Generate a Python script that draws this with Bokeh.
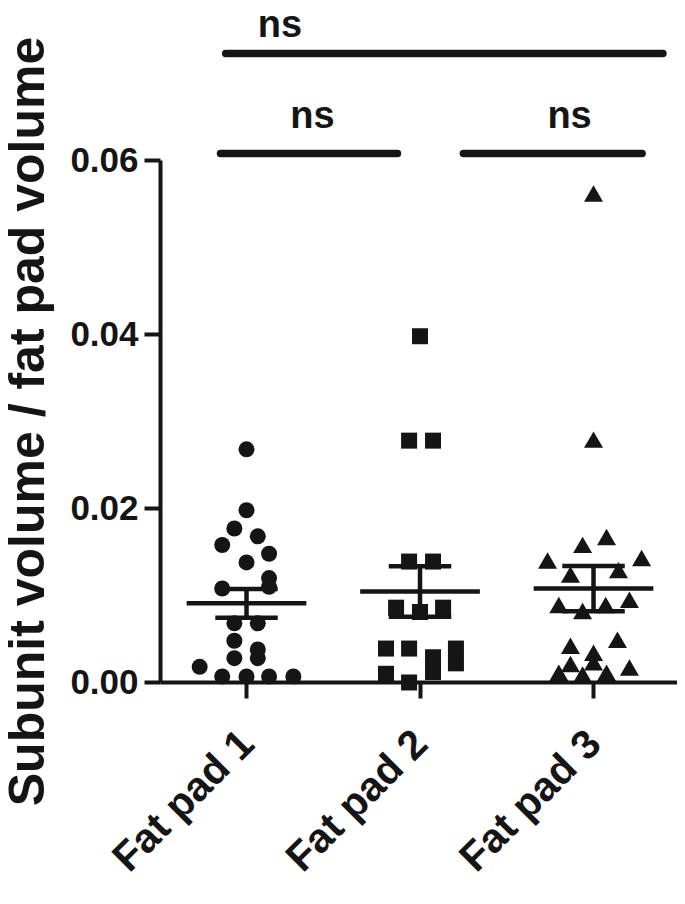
import math
from bokeh.plotting import figure
from bokeh.models import Range1d, FixedTicker, NumeralTickFormatter
from bokeh.core.properties import value
from bokeh.embed import file_html
from bokeh.resources import INLINE

# ---------------- data ----------------
categories = ["Fat pad 1", "Fat pad 2", "Fat pad 3"]

pad1_values = [0.0268, 0.0198, 0.0177, 0.0168, 0.0158, 0.0148, 0.0138, 0.0120,
               0.0108, 0.0110, 0.0068, 0.0068, 0.0048, 0.0038, 0.0028, 0.0028,
               0.0018, 0.0007, 0.0007, 0.0007, 0.0007]
pad1_offsets = [0.0, 0.0, -0.07, 0.065, -0.14, 0.13, 0.0, 0.13,
                -0.14, 0.13, -0.07, 0.065, -0.07, 0.065, -0.07, 0.065,
                -0.27, -0.14, 0.0, 0.13, 0.27]

pad2_values = [0.0398, 0.0278, 0.0278, 0.0139, 0.0139, 0.0086, 0.0081, 0.0086,
               0.0039, 0.0039, 0.0029, 0.0012, 0.0039, 0.0022, 0.0010, 0.0000]
pad2_offsets = [0.0, -0.063, 0.075, -0.063, 0.075, -0.138, 0.0, 0.133,
                -0.196, -0.063, 0.075, 0.075, 0.207, 0.207, -0.196, -0.063]

pad3_values = [0.0559, 0.0276, 0.0164, 0.0155, 0.0137, 0.0140, 0.0121, 0.0126,
               0.0086, 0.0092, 0.0079, 0.0086, 0.0046, 0.0039, 0.0031, 0.0018,
               0.0020, 0.0014, 0.0008, 0.0006, 0.0008]
pad3_offsets = [0.0, 0.0, 0.075, -0.063, -0.265, 0.277, -0.133, 0.144,
                -0.2, 0.207, -0.063, 0.07, 0.138, -0.133, 0.0, -0.133,
                0.0, 0.207, -0.2, -0.063, 0.075]

group_means = [0.0091, 0.01046, 0.0108]
group_sems = [0.00165, 0.0029, 0.0026]

y_ticks = [0.0, 0.02, 0.04, 0.06]
comparison_pairs = [(1, 2), (2, 3), (1, 3)]
comparison_labels = ["ns", "ns", "ns"]
y_title = "Subunit volume / fat pad volume"

# ---------------- styling / layout ----------------
INK = "#151515"
FONT = "Liberation Sans"
X_START, X_END = -0.4179, 3.484
Y_START, Y_END = -0.02368, 0.07839
Y_AXIS_X = 0.5043

p = figure(width=677, height=888,
           x_range=Range1d(X_START, X_END), y_range=Range1d(Y_START, Y_END),
           output_backend="svg", toolbar_location=None,
           min_border_left=0, min_border_right=0,
           min_border_top=0, min_border_bottom=0)
p.outline_line_color = None
p.xgrid.visible = False
p.ygrid.visible = False
p.background_fill_color = "white"
p.border_fill_color = "white"

# y axis (placed at a fixed data location, line limited to the tick span)
yax = p.yaxis[0]
yax.fixed_location = Y_AXIS_X
yax.bounds = (y_ticks[0], y_ticks[-1])
yax.ticker = FixedTicker(ticks=y_ticks)
yax.formatter = NumeralTickFormatter(format="0.00")
yax.axis_line_width = 4
yax.axis_line_color = INK
yax.major_tick_out = 16
yax.major_tick_in = 0
yax.major_tick_line_width = 4
yax.major_tick_line_color = INK
yax.minor_tick_line_color = None
yax.major_label_text_font = FONT
yax.major_label_text_font_style = "bold"
yax.major_label_text_font_size = "35px"
yax.major_label_text_color = INK
yax.major_label_standoff = 6
yax.axis_label = y_title
yax.axis_label_text_font = FONT
yax.axis_label_text_font_style = "bold"
yax.axis_label_text_font_size = "50px"
yax.axis_label_text_color = INK
yax.axis_label_standoff = 12

# x axis at y = 0
xax = p.xaxis[0]
xax.fixed_location = 0
xax.bounds = (Y_AXIS_X, X_END)
xax.ticker = FixedTicker(ticks=[1, 2, 3])
xax.major_label_overrides = {i + 1: c for i, c in enumerate(categories)}
xax.axis_line_width = 4
xax.axis_line_color = INK
xax.major_tick_in = 0
xax.major_tick_out = 16
xax.major_tick_line_width = 4
xax.major_tick_line_color = INK
xax.minor_tick_line_color = None
xax.major_label_orientation = math.pi / 4
xax.major_label_text_font = FONT
xax.major_label_text_font_style = "bold"
xax.major_label_text_font_size = "41px"
xax.major_label_text_color = INK
xax.major_label_standoff = 38

# points
groups = [(pad1_values, pad1_offsets, "circle", 16),
          (pad2_values, pad2_offsets, "square", 16),
          (pad3_values, pad3_offsets, "triangle", 19)]
for gi, (vals, offs, marker, size) in enumerate(groups):
    xs = [gi + 1 + o for o in offs]
    p.scatter(x=xs, y=vals, marker=marker, size=size,
              fill_color=INK, line_color=None)

# mean +/- SEM
MEAN_HALF = 0.345
CAP_HALF = 0.18
for gi, (m, s) in enumerate(zip(group_means, group_sems)):
    c = gi + 1
    p.segment(x0=[c - MEAN_HALF], y0=[m], x1=[c + MEAN_HALF], y1=[m],
              line_color=INK, line_width=4.5)
    p.segment(x0=[c, c - CAP_HALF, c - CAP_HALF], y0=[m - s, m + s, m - s],
              x1=[c, c + CAP_HALF, c + CAP_HALF], y1=[m + s, m + s, m - s],
              line_color=INK, line_width=4.5)

# significance bars
bar_geom = {(1, 2): (-0.15, -0.13, 0.0608, 0.38, 0.0652),
            (2, 3): (0.25, 0.28, 0.0608, 0.862, 0.0652),
            (1, 3): (-0.12, 0.40, 0.0723, 0.193, 0.0757)}
for (a, b), lab in zip(comparison_pairs, comparison_labels):
    l_off, r_off, yb, tx_off, ty = bar_geom[(a, b)]
    p.segment(x0=[a + l_off], y0=[yb], x1=[b + r_off], y1=[yb],
              line_color=INK, line_width=7.5, line_cap="round")
    p.text(x=[a + tx_off], y=[ty], text=[lab],
           text_font=value(FONT), text_font_style="bold",
           text_font_size="38px", text_color=INK,
           text_align="center", text_baseline="alphabetic")

open("out.html", "w").write(file_html(p, INLINE))
